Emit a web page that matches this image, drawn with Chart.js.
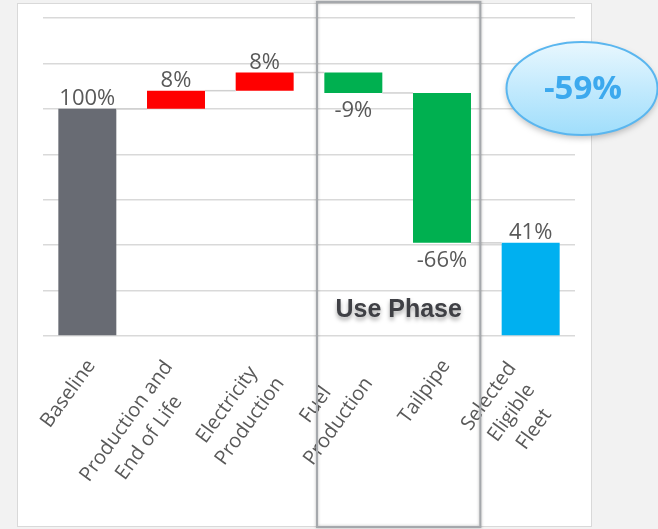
<!DOCTYPE html>
<html>
<head>
<meta charset="utf-8">
<script src="https://cdn.jsdelivr.net/npm/chart.js@4.4.1/dist/chart.umd.min.js"></script>
<style>
  body { margin: 0; background: #f2f2f2; }
  #panel { position: absolute; left: 17px; top: 3px; width: 575px; height: 524px;
    background: #fff; border: 1px solid #d9d9d9; box-sizing: border-box; }
  #wrap { position: absolute; left: 0; top: 0; width: 658px; height: 529px; }
</style>
</head>
<body>
<div id="panel"></div>
<div id="wrap"><canvas id="myChart"></canvas></div>
<script>
// waterfall steps, totals start from zero
const categories = [
  ['Baseline'],
  ['Production and', 'End of Life'],
  ['Electricity', 'Production'],
  ['Fuel', 'Production'],
  ['Tailpipe'],
  ['Selected', 'Eligible', 'Fleet']
]
const values = [100, 8, 8, -9, -66, 41]
const isTotal = [true, false, false, false, false, true]
const valueLabels = ['100%', '8%', '8%', '-9%', '-66%', '41%']
const barColors = ['#686b73', '#ff0000', '#ff0000', '#00b050', '#00b050', '#00b0f0']
const yTicks = { min: 0, max: 140, step: 20 }
const changeLabel = '-59%'
const phaseLabel = 'Use Phase'

// build floating ranges
var running = 0
const ranges = values.map((v, i) => {
  if (isTotal[i]) { running = v; return [0, v] }
  var start = running
  running += v
  return [start, running]
})

const waterfallExtras = {
  id: 'waterfallExtras',
  afterDatasetsDraw(chart) {
    const ctx = chart.ctx
    const x = chart.scales.x, y = chart.scales.y
    const bars = chart.getDatasetMeta(0).data
    ctx.save()
    // connectors
    ctx.strokeStyle = '#d0d0d0'
    ctx.lineWidth = 1.5
    for (var i = 0; i < bars.length - 1; i++) {
      var level = y.getPixelForValue(ranges[i][1])
      ctx.beginPath()
      ctx.moveTo(bars[i].x + bars[i].width / 2, level)
      ctx.lineTo(bars[i + 1].x - bars[i + 1].width / 2, level)
      ctx.stroke()
    }
    // value labels
    ctx.fillStyle = '#595959'
    ctx.font = '22px "Open Sans"'
    ctx.textAlign = 'center'
    ctx.textBaseline = 'middle'
    bars.forEach((b, i) => {
      var top = y.getPixelForValue(Math.max(ranges[i][0], ranges[i][1]))
      var bottom = y.getPixelForValue(Math.min(ranges[i][0], ranges[i][1]))
      if (values[i] < 0) ctx.fillText(valueLabels[i], b.x, bottom + 18)
      else ctx.fillText(valueLabels[i], b.x, top - 10)
    })
    // category labels, rotated, lines centered
    ctx.font = '20px "Open Sans"'
    const lh = 28
    categories.forEach((lines, i) => {
      var n = lines.length
      var w = Math.max(...lines.map(l => ctx.measureText(l).width))
      ctx.save()
      ctx.translate(x.getPixelForValue(i) + 4, chart.chartArea.bottom + 26 + (n - 1) * 9.5)
      ctx.rotate(-54 * Math.PI / 180)
      lines.forEach((l, j) => ctx.fillText(l, -w / 2, (j - (n - 1) / 2) * lh))
      ctx.restore()
    })
    ctx.restore()
  },
  afterDraw(chart) {
    const ctx = chart.ctx
    const x = chart.scales.x
    const area = chart.chartArea
    const catW = x.width / categories.length
    ctx.save()
    // Use Phase box round Fuel Production and Tailpipe
    var left = x.getPixelForValue(3) - catW / 2 + 8
    var right = x.getPixelForValue(4) + catW / 2 - 6
    ctx.shadowColor = 'rgba(0,0,0,0.3)'
    ctx.shadowBlur = 3
    ctx.strokeStyle = '#a5a8ac'
    ctx.lineWidth = 2
    ctx.strokeRect(left, 2, right - left, 525)
    ctx.shadowColor = 'rgba(0,0,0,0.35)'
    ctx.shadowBlur = 4
    ctx.shadowOffsetY = 3
    ctx.fillStyle = '#3f4045'
    ctx.font = 'bold 25px "Liberation Sans"'
    ctx.textAlign = 'center'
    ctx.textBaseline = 'middle'
    ctx.fillText(phaseLabel, (left + right) / 2, area.bottom - 26)
    // callout ellipse
    var cx = 582, cy = 88.5
    var g = ctx.createLinearGradient(0, cy - 46, 0, cy + 46)
    g.addColorStop(0, '#e8f7fe')
    g.addColorStop(0.5, '#c3eafd')
    g.addColorStop(1, '#a0defb')
    ctx.shadowColor = 'rgba(0,0,0,0.25)'
    ctx.shadowBlur = 6
    ctx.shadowOffsetY = 3
    ctx.beginPath()
    ctx.ellipse(cx, cy, 75.5, 46.5, 0, 0, Math.PI * 2)
    ctx.fillStyle = g
    ctx.fill()
    ctx.shadowColor = 'transparent'
    ctx.strokeStyle = '#5ab6ef'
    ctx.lineWidth = 2
    ctx.stroke()
    ctx.fillStyle = '#3ca9ee'
    ctx.font = 'bold 33px "Open Sans"'
    ctx.fillText(changeLabel, cx + 1, cy + 1)
    ctx.restore()
  }
}

var chart = new Chart(document.getElementById('myChart').getContext('2d'), {
  type: 'bar',
  data: {
    labels: categories,
    datasets: [{
      data: ranges,
      backgroundColor: barColors,
      borderWidth: 0,
      barPercentage: 1,
      categoryPercentage: 0.654
    }]
  },
  options: {
    responsive: true,
    maintainAspectRatio: false,
    animation: false,
    layout: { padding: { left: 43, right: 83, top: 18, bottom: 193 } },
    plugins: { legend: { display: false }, tooltip: { enabled: false } },
    scales: {
      x: { display: false },
      y: {
        min: yTicks.min,
        max: yTicks.max,
        ticks: { display: false, stepSize: yTicks.step },
        border: { display: false },
        grid: { color: '#d9d9d9', lineWidth: 1.5, drawTicks: false }
      }
    }
  },
  plugins: [waterfallExtras]
})
</script>
</body>
</html>
